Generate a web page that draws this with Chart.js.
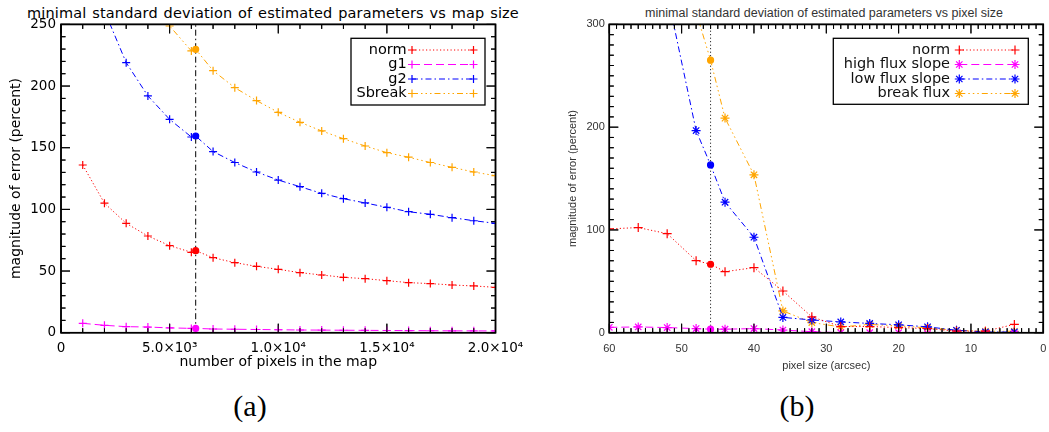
<!DOCTYPE html>
<html>
<head>
<meta charset="utf-8">
<script src="https://cdn.jsdelivr.net/npm/chart.js@4.4.0/dist/chart.umd.min.js"></script>
<style>
  body { margin: 0; background: #fff; width: 1049px; height: 432px; position: relative; overflow: hidden; }
  canvas { position: absolute; top: 0; }
  #chart-a { left: 0; }
  #chart-b { left: 524px; }
  .title { position: absolute; white-space: nowrap; transform: translateX(-50%); }
  #title-a { left: 273px; top: 5px; font-family: "DejaVu Sans"; font-size: 14.5px; line-height: 16px; letter-spacing: 0.15px; word-spacing: 1px; color: #000; }
  #title-b { left: 824px; top: 5.5px; font-family: "Liberation Sans"; font-size: 12.5px; line-height: 15px; color: #333; }
  .panel { position: absolute; top: 388px; font-family: "Liberation Serif"; font-size: 30px; line-height: 36px; transform: translateX(-50%); color: #000; }
</style>
</head>
<body>
<div class="title" id="title-a">minimal standard deviation of estimated parameters vs map size</div>
<div class="title" id="title-b">minimal standard deviation of estimated parameters vs pixel size</div>
<canvas id="chart-a" width="524" height="380"></canvas>
<canvas id="chart-b" width="525" height="380"></canvas>
<div class="panel" style="left:250px">(a)</div>
<div class="panel" style="left:797px">(b)</div>
<script>
// (a) error vs number of pixels in the map
const pixelsA = [1000, 2000, 3000, 4000, 5000, 6000, 6200, 7000, 8000, 9000, 10000, 11000, 12000, 13000, 14000, 15000, 16000, 17000, 18000, 19000, 20000];
const normA   = [136, 105, 88.7, 78.4, 70.6, 65.2, 66.5, 60.8, 56.8, 53.8, 51.4, 48.7, 46.8, 44.9, 43.8, 42.2, 40.6, 39.8, 38.7, 37.9, 36.8];
const g1A     = [7.6, 6.0, 4.9, 4.6, 3.9, 3.5, 3.5, 3.0, 2.8, 2.6, 2.4, 2.2, 2.1, 2.0, 1.9, 1.8, 1.7, 1.6, 1.5, 1.5, 1.4];
const g2A     = [null, 261, 219, 192, 173, 158.7, 159.5, 146.9, 138, 130.3, 123.8, 118.4, 113, 108.7, 105.2, 101.7, 98.1, 96, 93.3, 90.8, 88.7];
const sbreakA = [null, null, null, 275, 248.7, 228.5, 229.8, 212.5, 198.7, 188.2, 178.7, 170.6, 163.6, 157.3, 151.4, 146, 142.3, 138, 134.1, 130.3, 127.3];
const markA = 6200;
const xTicksA = ['0', '5.0×10³', '1.0×10⁴', '1.5×10⁴', '2.0×10⁴'];

// (b) error vs pixel size
const sizeB  = [60, 56, 52, 48, 46, 44, 40, 36, 32, 28, 24, 20, 16, 12, 8, 4];
const normB  = [101, 102.3, 96.4, 70.1, 66.6, 59.4, 63.3, 40.6, 15.4, 6, 6, 5, 4, 1.5, 1.5, 8.1];
const highB  = [5.2, 5.6, 5, 4, 3.4, 3.4, 4, 2.6, 1, 0, 0, 0, -1, -1, -1, -1];
const lowB   = [null, null, 330, 196.7, 163.3, 127, 92.9, 14.9, 12.4, 10.5, 9, 7.7, 5.7, 2.4, 0.7, 0.7];
const breakB = [null, null, null, 312, 265.2, 208.8, 153.6, 21.2, 9.9, 5.6, 8, 6.7, 4.7, 2.4, 1.4, 1.4];
const markB = 46;

const RED = '#ff0000', MAGENTA = '#ff00ff', BLUE = '#0000ff', ORANGE = '#ffa500';
const DOT = [1.2, 2.3], DASH = [8, 4], DASHDOT = [6, 3, 1.5, 3], DASH3DOT = [6, 3, 1.5, 3, 1.5, 3, 1.5, 3];

function series(xs, ys, label, color, dash, style, mark, r) {
  return {
    label,
    data: xs.map((x, i) => ({ x, y: ys[i] })),
    borderColor: color,
    backgroundColor: color,
    borderWidth: 1,
    borderDash: dash,
    pointStyle: xs.map(x => x === mark ? 'circle' : style),
    pointRadius: xs.map(x => x === mark ? 3 : r),
    pointBorderWidth: 1.2,
    pointBorderColor: color,
    pointBackgroundColor: color,
    clip: 0,
  };
}

function refLine(x, top, dash) {
  return {
    label: '',
    data: [{ x, y: 0 }, { x, y: top }],
    borderColor: '#000',
    borderWidth: 1,
    borderDash: dash,
    pointRadius: 0,
    clip: 0,
  };
}

function drawMark(ctx, style, x, y, r) {
  ctx.beginPath();
  ctx.moveTo(x - r, y); ctx.lineTo(x + r, y);
  ctx.moveTo(x, y - r); ctx.lineTo(x, y + r);
  if (style === 'star') {
    const d = r * Math.SQRT1_2;
    ctx.moveTo(x - d, y - d); ctx.lineTo(x + d, y + d);
    ctx.moveTo(x - d, y + d); ctx.lineTo(x + d, y - d);
  }
  ctx.stroke();
}

function isStep(v, step) {
  return Math.abs(v / step - Math.round(v / step)) < 1e-6;
}

function resetCtx(ctx) {
  ctx.setLineDash([]);
  ctx.globalAlpha = 1;
  ctx.globalCompositeOperation = 'source-over';
  ctx.setTransform(1, 0, 0, 1, 0, 0);
}

// IDL style frame: box with inward ticks on all four sides
function drawFrame(chart, frame) {
  const { ctx, chartArea: a } = chart;
  const sx = chart.scales.x, sy = chart.scales.y;
  ctx.save();
  resetCtx(ctx);
  ctx.strokeStyle = '#000';
  ctx.lineWidth = 1.5;
  ctx.strokeRect(a.left, a.top, a.right - a.left, a.bottom - a.top);
  ctx.lineWidth = 1;
  ctx.beginPath();
  for (let v = sx.min; v <= sx.max + 1e-6; v += frame.xMinor) {
    const px = sx.getPixelForValue(v);
    const len = isStep(v, frame.xMajor) ? frame.major : frame.minor;
    ctx.moveTo(px, a.bottom); ctx.lineTo(px, a.bottom - len);
    ctx.moveTo(px, a.top); ctx.lineTo(px, a.top + len);
  }
  for (let v = sy.min; v <= sy.max + 1e-6; v += frame.yMinor) {
    const py = sy.getPixelForValue(v);
    const len = isStep(v, frame.yMajor) ? frame.major : frame.minor;
    ctx.moveTo(a.left, py); ctx.lineTo(a.left + len, py);
    ctx.moveTo(a.right, py); ctx.lineTo(a.right - len, py);
  }
  ctx.stroke();
  ctx.restore();
}

function drawLegend(chart, L) {
  const ctx = chart.ctx;
  ctx.save();
  resetCtx(ctx);
  ctx.fillStyle = '#fff';
  ctx.fillRect(L.left, L.top, L.right - L.left, L.bottom - L.top);
  ctx.strokeStyle = '#000';
  ctx.lineWidth = 1.3;
  ctx.strokeRect(L.left, L.top, L.right - L.left, L.bottom - L.top);
  ctx.font = L.font;
  ctx.textAlign = 'right';
  ctx.textBaseline = 'middle';
  L.items.forEach((idx, row) => {
    const ds = chart.data.datasets[idx];
    const yy = L.rowStart + row * L.rowStep;
    ctx.fillStyle = L.textColor;
    ctx.fillText(ds.label, L.textRight, yy);
    ctx.strokeStyle = ds.borderColor;
    ctx.lineWidth = 1;
    ctx.setLineDash(ds.borderDash);
    ctx.beginPath();
    ctx.moveTo(L.lineStart, yy); ctx.lineTo(L.lineEnd, yy);
    ctx.stroke();
    ctx.setLineDash([]);
    ctx.lineWidth = 1.2;
    drawMark(ctx, L.marks[row], L.lineStart, yy, L.markRadius);
    drawMark(ctx, L.marks[row], L.lineEnd, yy, L.markRadius);
  });
  ctx.restore();
}

function framePlugin(frame, legend) {
  return {
    id: 'frame',
    beforeDatasetsDraw(chart) { drawFrame(chart, frame); },
    afterDraw(chart) {
      drawFrame(chart, frame);
      drawLegend(chart, legend);
    }
  };
}

function axis(opts) {
  return Object.assign({
    type: 'linear',
    grid: { display: false, drawTicks: false },
    border: { display: false },
  }, opts);
}

// keep the plot box where the reference has it, whatever the end labels need
function xFit(h) {
  return s => { s.height = h; s.paddingLeft = 0; s.paddingRight = 0; };
}
function yFit(w) {
  return s => { s.width = w; s.paddingTop = 0; s.paddingBottom = 0; };
}

const fontA = 'DejaVu Sans';
const fontB = 'Liberation Sans';

new Chart(document.getElementById('chart-a'), {
  type: 'line',
  data: {
    datasets: [
      series(pixelsA, normA, 'norm', RED, DOT, 'cross', markA, 4),
      series(pixelsA, g1A, 'g1', MAGENTA, DASH, 'cross', markA, 4),
      series(pixelsA, g2A, 'g2', BLUE, DASHDOT, 'cross', markA, 4),
      series(pixelsA, sbreakA, 'Sbreak', ORANGE, DASH3DOT, 'cross', markA, 4),
      refLine(markA, 250, DASHDOT),
    ],
  },
  options: {
    responsive: false,
    animation: false,
    devicePixelRatio: 1,
    layout: { padding: { left: 0, top: 24.4, right: 28.5, bottom: 0 } },
    plugins: { legend: { display: false }, tooltip: { enabled: false } },
    scales: {
      x: axis({
        min: 0, max: 20000,
        afterFit: xFit(47.3),
        ticks: { stepSize: 5000, autoSkip: false, maxRotation: 0, padding: 7.5, color: '#000',
                 font: { family: fontA, size: 13.5 }, callback: (v, i) => xTicksA[i] },
        title: { display: true, text: 'number of pixels in the map', color: '#000',
                 font: { family: fontA, size: 14 }, padding: { top: 0, bottom: 9.6 } },
      }),
      y: axis({
        min: 0, max: 250,
        afterFit: yFit(61),
        ticks: { stepSize: 50, padding: 5, color: '#000', font: { family: fontA, size: 13.5 } },
        title: { display: true, text: 'magnitude of error (percent)', color: '#000',
                 font: { family: fontA, size: 14 }, padding: { top: 7.8, bottom: 0 } },
      }),
    },
  },
  plugins: [framePlugin(
    { xMinor: 1000, xMajor: 5000, yMinor: 10, yMajor: 50, major: 9, minor: 4.5 },
    { left: 351, top: 38.3, right: 485, bottom: 105, textRight: 406.7, lineStart: 412, lineEnd: 473.5,
      rowStart: 50, rowStep: 14.5, items: [0, 1, 2, 3], marks: ['cross', 'cross', 'cross', 'cross'],
      markRadius: 4, font: '14.5px "DejaVu Sans"', textColor: '#000' }
  )],
});

new Chart(document.getElementById('chart-b'), {
  type: 'line',
  data: {
    datasets: [
      series(sizeB, normB, 'norm', RED, DOT, 'cross', markB, 4.5),
      series(sizeB, highB, 'high flux slope', MAGENTA, DASH, 'star', markB, 4.5),
      series(sizeB, lowB, 'low flux slope', BLUE, DASHDOT, 'star', markB, 4.5),
      series(sizeB, breakB, 'break flux', ORANGE, DASH3DOT, 'star', markB, 4.5),
      refLine(markB, 300, [1, 2.5]),
    ],
  },
  options: {
    responsive: false,
    animation: false,
    devicePixelRatio: 1,
    layout: { padding: { left: 0, top: 24.4, right: 5.6, bottom: 0 } },
    plugins: { legend: { display: false }, tooltip: { enabled: false } },
    scales: {
      x: axis({
        min: 0, max: 60, reverse: true,
        afterFit: xFit(47.3),
        ticks: { stepSize: 10, autoSkip: false, maxRotation: 0, padding: 9.4, color: '#333',
                 font: { family: fontB, size: 11 } },
        title: { display: true, text: 'pixel size (arcsec)', color: '#333',
                 font: { family: fontB, size: 11 }, padding: { top: 0, bottom: 7.9 } },
      }),
      y: axis({
        min: 0, max: 300,
        afterFit: yFit(85.3),
        ticks: { stepSize: 100, padding: 4.5, color: '#333', font: { family: fontB, size: 11 } },
        title: { display: true, text: 'magnitude of error (percent)', color: '#333',
                 font: { family: fontB, size: 11 }, padding: { top: 42, bottom: 0 } },
      }),
    },
  },
  plugins: [framePlugin(
    { xMinor: 1, xMajor: 10, yMinor: 10, yMajor: 100, major: 9, minor: 4.5 },
    { left: 309.3, top: 38.3, right: 504.3, bottom: 104.3, textRight: 426, lineStart: 435.3, lineEnd: 491,
      rowStart: 50, rowStep: 14.5, items: [0, 1, 2, 3], marks: ['cross', 'star', 'star', 'star'],
      markRadius: 4.5, font: '14.5px "DejaVu Sans"', textColor: '#111' }
  )],
});
</script>
</body>
</html>
